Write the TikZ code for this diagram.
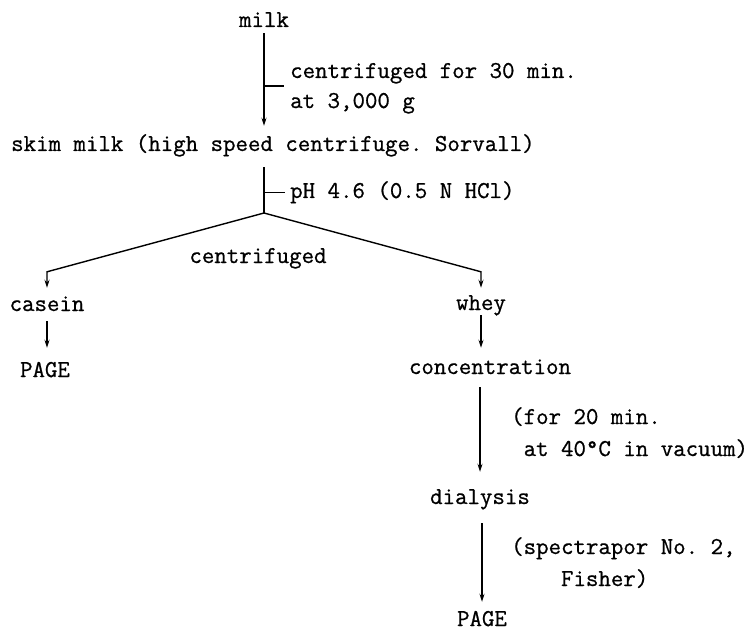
\documentclass[tikz,border=0pt]{standalone}
\usepackage{fontspec}
\setmonofont[FakeBold=0.8]{Latin Modern Mono}
\usetikzlibrary{arrows.meta,calc}
\begin{document}
\begin{tikzpicture}[x=1pt,y=-1pt,
  lbl/.style={inner sep=0pt, text height=15pt, text depth=4pt,
    font=\fontsize{24.2}{29}\selectfont\ttfamily},
  conn/.style={line width=1.4pt},
  arr/.style={conn, -{Stealth[length=8pt,width=5pt]}}]
\useasboundingbox (0,0) rectangle (752,631);
% nodes
\node[lbl, anchor=base] (milk) at (264,27) {milk};
\node[lbl, anchor=base west] (c1) at (290,78) {centrifuged for 30 min.};
\node[lbl, anchor=base west] (c2) at (290,108) {at 3,000 g};
\node[lbl, anchor=base west] (skim) at (11,151) {skim milk (high speed centrifuge. Sorvall)};
\node[lbl, anchor=base west] (ph) at (290,198) {pH 4.6 (0.5 N HCl)};
\coordinate (apex) at (264,213);
\node[lbl, anchor=base] (cent) at (258,263) {centrifuged};
\node[lbl, anchor=base] (casein) at (47,311) {casein};
\node[lbl, anchor=base] (whey) at (481,310) {whey};
\node[lbl, anchor=base] (page1) at (45,377) {PAGE};
\node[lbl, anchor=base] (conc) at (490,374) {concentration};
\node[lbl, anchor=base west] (f1) at (511,424) {(for 20 min.};
\node[lbl, anchor=base west] (f2) at (511,456) {\ at 40\textdegree C in vacuum)};
\node[lbl, anchor=base] (dial) at (480,504) {dialysis};
\node[lbl, anchor=base west] (s1) at (511,554) {(spectrapor No. 2,};
\node[lbl, anchor=base west] (s2) at (511,586) {\ \ \ \ Fisher)};
\node[lbl, anchor=base] (page2) at (482,626) {PAGE};
% connectors
\draw[arr, shorten <=2pt, shorten >=10pt] (milk.south) -- (milk.south |- skim.north);
\draw[conn] ($(milk.south |- c1.west)+(0,13.5)$) -- ($(c1.west)+(-6,13.5)$);
\draw[conn, shorten <=12pt] (apex |- skim.south) -- (apex);
\draw[conn] (apex |- ph.west) -- ([xshift=-5pt]ph.west);
\draw[arr] (apex) -- ([yshift=24pt]casein.north) -- ([yshift=8pt]casein.north);
\draw[arr] (apex) -- ([yshift=23pt]whey.north) -- ([yshift=7pt]whey.north);
\draw[arr, shorten <=6pt, shorten >=14pt] (casein.south) -- (casein.south |- page1.north);
\draw[arr, shorten <=1pt, shorten >=11pt] (whey.south) -- (whey.south |- conc.north);
\draw[arr, shorten <=9pt, shorten >=17pt] (dial.north |- conc.south) -- (dial.north);
\draw[arr, shorten <=15pt, shorten >=9pt] (page2.north |- dial.south) -- (page2.north);
\end{tikzpicture}
\end{document}
